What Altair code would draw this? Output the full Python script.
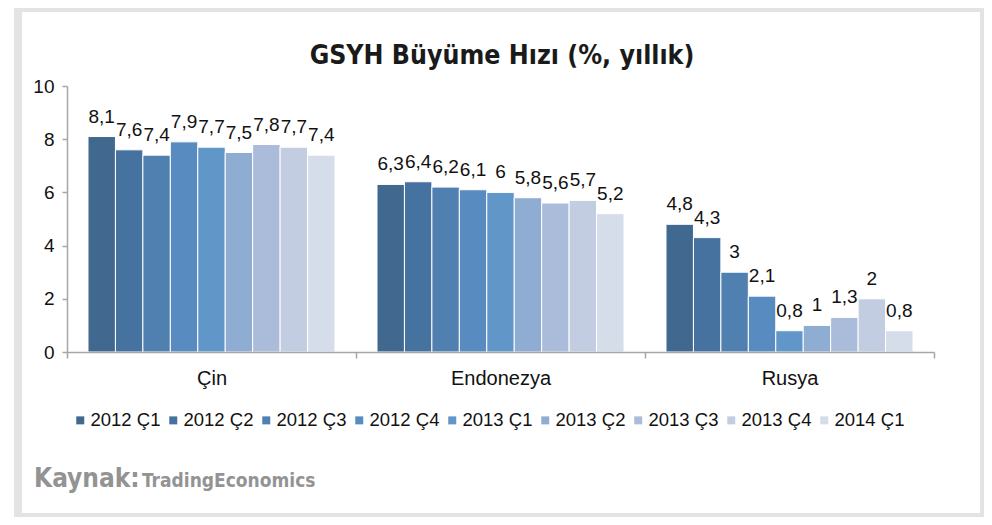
import altair as alt
import pandas as pd

countries = ["Çin", "Endonezya", "Rusya"]
quarters = ["2012 Ç1", "2012 Ç2", "2012 Ç3", "2012 Ç4", "2013 Ç1",
            "2013 Ç2", "2013 Ç3", "2013 Ç4", "2014 Ç1"]
cin = [8.1, 7.6, 7.4, 7.9, 7.7, 7.5, 7.8, 7.7, 7.4]
endonezya = [6.3, 6.4, 6.2, 6.1, 6.0, 5.8, 5.6, 5.7, 5.2]
rusya = [4.8, 4.3, 3.0, 2.1, 0.8, 1.0, 1.3, 2.0, 0.8]
colors = ["#41698f", "#4672a0", "#5080b0", "#588cc0", "#6096c8",
          "#8fadd2", "#aabcda", "#c3cde2", "#d5dcea"]

title_text = "GSYH Büyüme Hızı (%, yıllık)"
source_bold = "Kaynak:"
source_name = "TradingEconomics"

rows = []
for c, vals in zip(countries, [cin, endonezya, rusya]):
    for q, v in zip(quarters, vals):
        rows.append({"ulke": c, "ceyrek": q, "deger": v,
                     "etiket": f"{v:g}".replace(".", ",")})
df = pd.DataFrame(rows)

NARROW = "DejaVu Sans Condensed"
ARIAL = "Liberation Sans"

one = pd.DataFrame({"a": [0]})
frame_gray = alt.Chart(one).mark_rect(color="#e3e3e3").encode(
    x=alt.value(-53), x2=alt.value(917), y=alt.value(-78), y2=alt.value(431))
frame_white = alt.Chart(one).mark_rect(color="white").encode(
    x=alt.value(-45), x2=alt.value(913), y=alt.value(-74), y2=alt.value(427))

base = alt.Chart(df).encode(
    x=alt.X("ulke:N", sort=countries,
            scale=alt.Scale(paddingInner=0, paddingOuter=0),
            axis=alt.Axis(title=None, labelAngle=0, labelFont=ARIAL,
                          labelFontSize=20, labelColor="#111",
                          labelPadding=10, tickBand="extent", tickSize=6,
                          tickColor="#a6a6a6", domainColor="#a6a6a6",
                          domainWidth=1.5, tickWidth=1.5, zindex=1)),
    xOffset=alt.XOffset("ceyrek:N", sort=quarters,
                        scale=alt.Scale(paddingInner=0, paddingOuter=0.765)),
    y=alt.Y("deger:Q", scale=alt.Scale(domain=[0, 10]),
            axis=alt.Axis(title=None, values=[0, 2, 4, 6, 8, 10], grid=False,
                          labelFont=ARIAL, labelFontSize=19, labelColor="#111",
                          labelPadding=8, tickSize=5, tickColor="#a6a6a6",
                          domainColor="#a6a6a6", domainWidth=1.5, tickWidth=1.5,
                          zindex=1)),
)

bars = base.mark_bar(stroke="white", strokeWidth=1).encode(
    color=alt.Color("ceyrek:N", sort=quarters,
                    scale=alt.Scale(domain=quarters, range=colors),
                    legend=alt.Legend(title=None, orient="none", legendX=4,
                                      legendY=325, direction="horizontal",
                                      columns=9, symbolType="square",
                                      symbolSize=64, symbolStrokeWidth=0,
                                      labelFont=ARIAL, labelFontSize=18.5,
                                      labelColor="#111", labelOffset=1,
                                      columnPadding=3)))

labels = base.mark_text(dy=-20, fontSize=19, font=ARIAL, color="#111",
                        baseline="middle").encode(text="etiket:N")

title = alt.Chart(pd.DataFrame({"t": [title_text]})).mark_text(
    font=NARROW, fontSize=26.5, fontWeight="bold", color="#1a1a1a",
    align="center", baseline="alphabetic").encode(
    text="t:N", x=alt.value(435), y=alt.value(-22))

src1 = alt.Chart(pd.DataFrame({"t": [source_bold]})).mark_text(
    font=NARROW, fontSize=26, fontWeight="bold", color="#939393",
    align="left", baseline="alphabetic").encode(
    text="t:N", x=alt.value(-33), y=alt.value(401))
src2 = alt.Chart(pd.DataFrame({"t": [source_name]})).mark_text(
    font=NARROW, fontSize=19, fontWeight="bold", color="#939393",
    align="left", baseline="alphabetic").encode(
    text="t:N", x=alt.value(75), y=alt.value(401))

chart = alt.layer(frame_gray, frame_white, bars, labels, title, src1, src2).properties(
    width=867, height=266,
    autosize=alt.AutoSizeParams(type="none"),
    padding={"left": 59, "top": 78, "right": 50, "bottom": 165},
).configure_view(stroke=None)

chart.save("out.html", embed_options={"renderer": "svg", "actions": False})
